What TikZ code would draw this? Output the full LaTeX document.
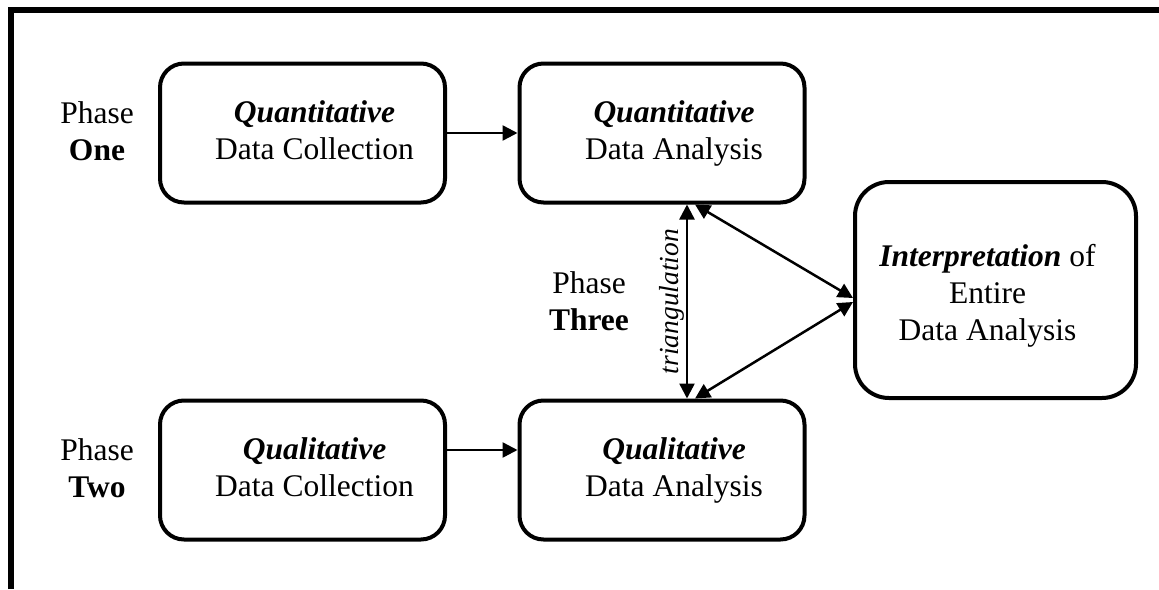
\documentclass[tikz,border=0pt]{standalone}
\usepackage{fontspec}
\setmainfont{Liberation Serif}
\usetikzlibrary{arrows.meta, positioning}

\begin{document}
\begin{tikzpicture}[x=1pt, y=-1pt,
        base/.style={font=\fontsize{31.5}{37}\selectfont, align=center},
        frame/.style={line width=6pt},
        outline/.style={base, draw, rectangle, line width=4pt},
        box/.style={outline, rounded corners=24pt, minimum width=285pt, minimum height=139pt, execute at begin node=\rule{0pt}{65pt}\hspace*{24pt}, execute at end node=\strut},
        bigbox/.style={outline, rounded corners=34pt, minimum width=281pt, minimum height=216pt, execute at begin node=\rule{0pt}{113pt}, execute at end node=\strut\hspace*{16pt}},
        phase/.style={base},
        arrow/.style={-{Triangle[length=15pt, width=15pt]}, line width=2.5pt},
        twoway/.style={{Triangle[length=15pt, width=15pt]}-{Triangle[length=15pt, width=15pt]}, line width=2.5pt},
        label/.style={font=\fontsize{27.5}{33}\selectfont\itshape}
    ]
    \useasboundingbox (0,0) rectangle (1159,589);

    % Frame
    \draw[frame] (11,589) -- (11,10) -- (1159,10);

    % Top Row
    \node[phase] (one) at (97, 131) {Phase\\ \textbf{One}};
    \node[box] (qncoll) at (302.5, 133) {\textbf{\textit{Quantitative}}\\ Data Collection};
    \node[box] (qnana) at (662, 133) {\textbf{\textit{Quantitative}}\\ Data Analysis};

    % Bottom Row
    \node[phase] (two) at (97, 468) {Phase\\ \textbf{Two}};
    \node[box] (qlcoll) at (302.5, 470) {\textbf{\textit{Qualitative}}\\ Data Collection};
    \node[box] (qlana) at (662, 470) {\textbf{\textit{Qualitative}}\\ Data Analysis};

    % Middle
    \node[phase] (three) at (589, 301) {Phase\\ \textbf{Three}};
    \node[bigbox] (interp) at (995.5, 290) {\textbf{\textit{Interpretation}} of\\ Entire\\ Data Analysis};

    % Forward Arrows
    \draw[arrow] (qncoll) -- (qnana);
    \draw[arrow] ([yshift=20pt]qlcoll.east) -- ([yshift=20pt]qlana.west);

    % Triangulation
    \draw[twoway] ([xshift=25pt]qnana.south) -- node[midway, rotate=90, anchor=south, inner sep=1pt, label] (tri) {triangulation} ([xshift=25pt]qlana.north);
    \draw[twoway] ([xshift=33pt]qnana.south) -- ([yshift=-8pt]interp.west);
    \draw[twoway] ([xshift=33pt]qlana.north) -- ([yshift=-12pt]interp.west);
\end{tikzpicture}
\end{document}
